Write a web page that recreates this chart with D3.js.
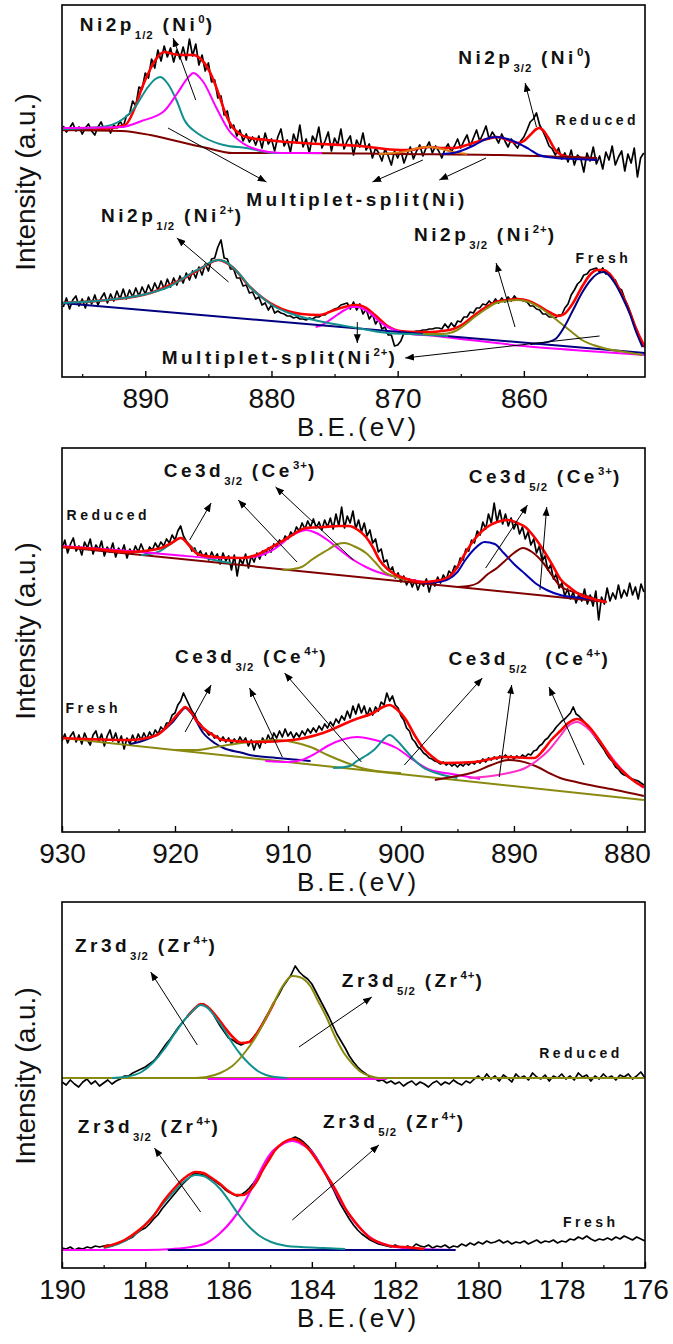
<!DOCTYPE html>
<html><head><meta charset="utf-8">
<script src="https://cdn.jsdelivr.net/npm/d3@7"></script>
<style>body{margin:0;background:#fff}</style>
</head><body>
<svg id="c" width="673" height="1344" xmlns="http://www.w3.org/2000/svg"></svg>
<script>
// ---------------- DATA ----------------
const niDomain = [896.6, 850.4];
const ceDomain = [930, 878.4];
const zrDomain = [190, 176];
const niYDomain = [0, 372];
const ceYDomain = [0, 384];
const zrYDomain = [0, 366];

const niMajor = [890, 880, 870, 860];
const niMinor = [895, 885, 875, 865, 855];
const ceMajor = [930, 920, 910, 900, 890, 880];
const ceMinor = [925, 915, 905, 895, 885];
const zrMajor = [190, 188, 186, 184, 182, 180, 178, 176];
const zrMinor = [189, 187, 185, 183, 181, 179, 177];

// raw spectra: first binding energy, step (eV), intensities (a.u.)
const niStart = 896.5, niStep = 0.25;
const niReducedCounts = [251,245,249,254,246,250,243,249,253,246,242,250,255,247,251,244,252,249,256,250,
261,263,276,271,290,288,304,299,318,309,327,316,331,320,329,315,327,318,330,317,
338,321,333,312,322,306,314,295,297,279,281,262,266,249,252,241,247,236,243,235,
240,232,241,229,244,233,238,226,240,248,231,237,225,243,234,252,230,238,224,241,
235,250,229,236,245,226,239,232,248,228,236,241,222,237,230,244,227,233,219,229,
224,216,228,221,212,226,219,227,214,223,230,218,226,232,221,229,235,224,231,226,
219,228,233,225,231,238,229,236,242,231,239,247,236,243,251,238,245,240,234,243,
236,230,238,233,229,236,240,247,255,258,264,252,246,239,231,228,222,229,218,224,
215,227,212,222,219,205,224,216,230,213,221,208,225,217,231,212,220,226,206,223,
214,229,200,219,224];
const niFreshCounts = [70,79,68,77,81,71,78,69,80,73,82,72,79,84,74,83,76,86,78,88,
78,87,80,89,81,90,83,92,85,94,87,96,88,98,90,99,92,101,94,104,
97,106,99,110,102,113,106,118,119,130,137,119,118,108,108,99,99,91,92,84,
85,78,80,72,74,67,72,64,66,64,63,61,61,59,60,58,58,57,59,58,
60,60,62,62,65,66,68,69,72,73,74,68,75,67,73,63,68,58,63,53,
58,48,50,42,42,31,32,36,44,44,45,45,46,46,47,47,48,48,49,49,
48,53,49,54,50,56,55,60,60,65,64,69,69,73,72,76,73,78,74,79,
75,80,76,81,77,77,76,75,71,71,68,67,63,63,60,60,59,62,62,69,
73,82,87,93,96,102,103,107,108,109,105,109,103,104,98,97,89,87,78,71,
62,53,46,36,30];

const ceStart = 930, ceStep = 0.25;
const ceReducedCounts = [283,292,279,288,294,281,286,277,290,284,293,278,287,282,291,276,285,280,289,275,
284,279,287,274,283,278,286,280,288,281,277,285,282,289,284,290,286,293,289,297,
292,301,306,296,291,287,281,284,277,281,275,279,272,280,274,278,268,279,271,276,
262,277,256,273,268,278,264,276,270,279,273,281,277,284,280,288,285,292,289,296,
293,300,297,305,301,309,303,311,305,313,304,310,302,312,305,314,303,318,306,325,
304,316,309,321,303,312,300,309,296,302,289,293,280,283,270,272,261,265,254,259,
250,256,247,253,245,252,242,250,246,253,240,251,246,255,249,257,252,261,258,266,
264,274,272,283,281,292,289,301,297,310,303,318,309,329,310,322,308,318,306,314,
303,310,298,305,293,300,287,293,279,286,271,276,262,267,253,258,244,249,236,243,
233,240,229,238,231,243,228,237,226,241,212,235,228,244,231,239,233,247,234,242,
236,249,237,245,233,248,240];
const ceFreshCounts = [91,98,89,96,100,90,97,88,99,92,87,97,101,91,98,86,96,102,91,99,
89,96,83,94,88,97,90,98,92,99,93,100,95,102,98,105,102,109,109,117,
119,127,131,139,133,127,121,117,111,108,103,101,97,99,94,96,91,95,90,94,
88,93,89,95,90,94,86,92,82,91,84,94,89,97,91,99,94,101,95,103,
96,100,94,99,95,101,97,103,99,104,100,106,102,108,104,110,106,113,109,116,
112,121,114,126,118,128,119,126,116,124,117,125,121,130,127,139,131,136,127,124,
116,112,104,101,93,90,85,83,79,77,74,73,71,70,68,70,67,69,66,68,
65,68,66,69,67,70,68,71,69,73,70,74,72,75,73,76,74,77,74,76,
73,76,74,77,75,78,77,81,82,86,88,92,94,98,101,105,108,111,113,116,
119,125,118,116,113,110,106,102,98,94,90,86,82,77,73,70,65,63,59,57,
56,54,53,52,51,49,47];

const zrStart = 190, zrStep = 0.1;
const zrReducedCounts = [186,183,188,184,181,186,189,184,187,182,185,188,184,187,189,192,192,195,197,199,
201,204,207,212,218,224,229,235,241,246,251,256,260,263,264,261,256,249,242,236,
230,228,225,223,225,226,231,236,243,251,258,266,273,281,287,293,302,296,292,289,
284,276,268,260,252,243,234,227,220,212,206,201,197,194,191,190,187,188,185,187,
184,186,182,185,187,183,186,184,181,185,187,183,186,184,188,185,183,187,185,189,
192,188,194,189,192,187,193,190,186,194,190,192,188,195,191,189,193,187,192,190,
194,189,192,188,195,191,193,187,192,189,194,190,192,188,193,191,194,189,192,196,
190];
const zrFreshCounts = [20,19,21,18,20,19,21,20,22,21,22,23,22,24,26,27,29,31,35,38,
40,44,49,53,59,64,69,74,79,84,88,92,95,94,93,91,89,86,83,79,
76,74,72,73,76,80,85,91,97,104,112,117,121,125,127,129,131,129,126,122,
117,111,104,96,88,80,71,63,56,49,43,38,34,31,28,26,24,23,22,21,
23,21,20,22,20,24,22,21,23,20,22,21,23,20,22,21,24,22,25,23,
26,24,27,25,26,28,25,27,24,26,25,27,24,26,28,25,27,26,28,25,
27,26,29,28,31,29,32,29,27,29,28,30,28,31,29,32,30,28,31,29,
27];

// fitted components [eV, intensity]
const niRedFit = [[896.6,247],[893.5,248],[891.6,252],[890.8,270],[890.3,288],[889.6,308],[889.2,317],[888.5,325],[887.8,323],[887.2,322],[886.6,322],[886.2,322],[885.6,318],[885.1,310],[884.6,297],[884.1,280],[883.6,262],[883.1,250],[882.5,243],[882.0,240],[880.4,237],[877.6,234],[873,231],[869.8,227],[869.0,227],[868.2,229],[867.4,230],[866.6,229],[865.6,229],[864.5,232],[863.5,236],[862.6,239],[862.2,240],[861.5,238],[860.5,234],[860,236],[859.5,242],[859.0,248],[858.8,249],[858.5,247],[858.1,240],[857.5,227],[856.8,221],[855.5,219],[854.2,217]];
const niRedBg = [[896.6,247],[891.9,246],[889.6,242],[887.2,235],[885.1,229],[883.1,224],[877.8,224],[869.8,223],[861.9,222],[854.2,219]];
const niRedTeal = [[896.6,248],[893.5,250],[892.0,256],[890.8,270],[889.9,288],[889.2,298],[888.8,300],[888.2,293],[887.5,276],[886.9,257],[886.0,245],[885.4,240],[883.8,232],[882.0,229],[879.7,224],[876.0,224]];
const niRedMag = [[896.6,249],[891.9,250],[890.3,256],[888.5,266],[887.5,283],[886.5,301],[886.2,304],[885.4,295],[884.4,270],[883.4,247],[882.3,234],[881.0,227],[879.3,224],[876.0,224]];
const niRedOrange = [[871.5,223],[870.3,224],[869.2,226],[868.4,229],[867.4,230],[866.5,228],[865.6,225],[864.5,223]];
const niRedBlue = [[866.5,223],[865.6,224],[864.6,228],[863.9,232],[863.0,238],[862.2,240],[861.3,238],[860.5,234],[859.6,228],[858.8,222],[857.5,219],[856,218],[854.2,217]];

const niFrFit = [[896.6,74],[893,77],[889.6,84],[887.2,97],[885.4,110],[884.2,117],[883.1,110],[881.7,90],[879.7,71],[877.6,63],[876.2,62],[875.0,67],[873.9,71],[873.2,72],[872.5,69],[871.8,62],[870.8,51],[869.8,46],[868.5,45],[867.4,45],[866.5,46],[865.6,48],[864.8,53],[863.9,62],[863,70],[862.2,75],[861.3,77],[860.5,78],[859.6,76],[858.8,71],[858.0,65],[857.3,61],[856.8,63],[856.1,74],[855.4,90],[854.7,103],[854.2,107],[853.7,107],[853.2,103],[852.7,94],[852.2,82],[851.6,65],[851.1,48],[850.4,30]];
const niFrBg = [[896.6,74],[850.4,24]];
const niFrTeal = [[896.6,74],[893.0,77],[889.6,84],[888.0,91],[887.2,97],[886.2,105],[885.4,110],[884.8,115],[884.2,117],[883.6,115],[883.1,110],[882.4,101],[881.7,90],[880.7,79],[879.7,70],[878.6,64],[877.6,60],[875.5,54],[873.2,49],[870.8,44],[869.0,43],[866.0,41]];
const niFrMag = [[876.5,50],[876.0,52],[875.5,56],[874.8,62],[874.2,67],[873.6,70],[873.2,70],[872.7,68],[872.0,62],[871.5,56],[870.8,50],[870.0,46],[869.5,44],[867,41],[865,38],[860,31],[855,26],[850.4,22]];
const niFrOlive = [[868,43],[866.5,43],[865.6,45],[864.8,51],[863.9,60],[863.0,68],[862.2,74],[861.3,76],[860.5,77],[859.6,75],[858.8,70],[858.0,63],[857.1,54],[856.2,45],[855.4,37],[854.5,32],[853.7,29],[852,25],[850.6,22]];
const niFrNavy = [[859.5,33],[858.5,34],[857.5,38],[856.8,50],[856.1,67],[855.4,84],[854.7,97],[854.2,103],[853.7,105],[853.2,101],[852.7,92],[852.2,80],[851.6,63],[851.1,45],[850.6,30]];

const ceRedFit = [[930,285],[927,283],[924.1,280],[922,282],[921,285],[920.3,289],[919.5,294],[918.7,286],[918,278],[916.5,275],[914.1,274],[912.8,277],[911.9,282],[910.8,289],[909.9,295],[908.4,304],[906.9,305],[905.5,306],[904.6,306],[903.8,302],[903.1,295],[902.5,285],[901.9,272],[901.2,263],[900.4,257],[899.2,252],[898.1,250],[897,251],[895.8,255],[895,265],[894.3,279],[893.4,294],[892.5,304],[891.5,310],[890.5,312],[889.7,309],[889.0,305],[888.2,295],[887.4,282],[886.6,267],[885.9,253],[885,244],[884.1,237],[883,233],[881.8,230]];
const ceRedBg = [[930,285],[881.8,230]];
const ceRedTeal = [[923,277],[921.5,280],[920.5,287],[919.5,294],[918.7,287],[917.8,277],[916.5,272],[915,269]];
const ceRedMag = [[930,286],[924,281],[920,277],[916.4,274],[914,274],[912.6,276],[911.5,281],[910.7,287],[909.6,297],[908.8,301],[908.4,302],[907.5,299],[906.5,292],[905.5,283],[904.2,272],[903.1,265],[902.3,261],[900.4,255],[898,250]];
const ceRedOlive = [[910.5,262],[909.5,263],[908.8,265],[907.8,273],[906.5,282],[905.6,288],[905.0,289],[904.2,286],[903.1,279],[902.3,270],[901.6,261],[900.4,255],[899.5,252]];
const ceRedBlue = [[898,249],[896.8,250],[895.8,253],[895,260],[894.3,272],[893.5,283],[892.6,290],[891.7,288],[890.9,279],[890,268],[889.0,258],[888,248],[887.1,242],[885.9,237],[884,234],[882,231]];
const ceRedWine = [[895,245],[894,246],[893.2,249],[892.3,258],[891.5,264],[890.9,270],[890,279],[889.2,284],[888.4,280],[887.4,269],[886.6,256],[885.9,246],[884.4,239],[883,234]];

const ceFrFit = [[930,94],[924.1,92],[921.8,96],[921,102],[920.2,112],[919.5,121],[919.1,125],[918.6,120],[918,110],[917.5,104],[916.5,96],[915.7,92],[912.6,90],[909.6,92],[906.9,99],[904.2,112],[902.3,120],[901.6,125],[901.0,127],[900.4,123],[899.6,113],[898.8,97],[898.1,85],[897.2,75],[896.3,69],[893.5,70],[890.9,75],[888.2,74],[887.4,82],[886.7,92],[885.9,101],[885.2,109],[884.4,113],[883.6,108],[882.9,99],[882.1,86],[881.3,72],[880.4,61],[879.5,52],[878.5,45]];
const ceFrBg = [[930,94],[878.5,32]];
const ceFrNavy = [[924,88],[922.9,91],[921.5,98],[920.2,110],[919.5,120],[919.1,124],[918.5,118],[917.5,99],[916.5,89],[915.7,84],[914,79],[913.4,77],[911,74],[908,71]];
const ceFrOlive = [[920,82],[918,82],[916.4,85],[914.1,89],[912.5,91],[911.1,92],[909.6,90],[908.0,85],[906.5,77],[905.0,70],[903.5,64],[902.7,62],[900,59]];
const ceFrMag = [[912,71],[910,70],[908.8,72],[907.5,79],[906.5,86],[905,93],[903.9,95],[902.3,92],[901.2,88],[900.4,84],[899.5,77],[898.9,72],[897.4,62],[895.5,58],[893,53]];
const ceFrTeal = [[906,64],[904.5,66],[903.9,71],[903,77],[902.3,83],[901.6,92],[901.0,97],[900.4,92],[899.6,82],[898.9,73],[898.1,65],[896.6,58],[895,54]];
const ceFrWine = [[897,52],[895.5,55],[893.5,60],[892,67],[890.5,72],[889.5,71],[887.9,65],[886.7,58],[885.9,54],[884.5,50],[883.3,47],[881,42],[878.5,36]];
const ceFrPink = [[894,54],[892,56],[890.5,59],[889,64],[887.9,72],[886.9,82],[885.9,96],[885.2,106],[884.4,110],[883.6,105],[882.9,97],[882.1,86],[881.3,74],[880.5,63],[879.8,55],[879,48],[878.5,44]];

const zrRedBase = [[190,190],[176,190]];
const zrRedMagBase = [[186.5,189],[182.2,189]];
const zrRedFit = [[187.0,251],[186.8,260],[186.67,264],[186.5,261],[186.3,252],[186.1,241],[185.9,231],[185.7,225],[185.5,226],[185.3,236],[185.1,250],[184.9,266]];
const zrRedTeal = [[188.8,190],[188.49,191],[188.09,196],[187.8,206],[187.56,218],[187.3,234],[187.06,248],[186.84,258],[186.67,263],[186.5,260],[186.32,251],[186.1,238],[185.91,225],[185.7,213],[185.5,204],[185.3,197],[185.1,193],[184.88,191],[184.6,190]];
const zrRedOlive = [[186.8,190],[186.53,191],[186.2,195],[185.91,202],[185.6,216],[185.29,235],[185.1,250],[184.88,268],[184.7,282],[184.47,292],[184.3,291],[184.04,282],[183.85,267],[183.64,250],[183.45,232],[183.23,215],[183.0,203],[182.82,196],[182.6,192],[182.39,190],[182.1,190]];

const zrFrFit = [[189.0,21],[188.5,28],[188.18,37],[187.8,52],[187.56,67],[187.3,80],[187.06,90],[186.79,96],[186.6,95],[186.44,91],[186.2,84],[186.0,77],[185.81,73],[185.65,73],[185.5,77],[185.3,88],[185.19,97],[185.0,110],[184.88,118],[184.7,125],[184.57,128],[184.47,129],[184.3,127],[184.2,124],[184.04,117],[183.9,109],[183.7,96],[183.54,86],[183.3,68],[183.2,60],[183.0,48],[182.8,38],[182.6,30],[182.4,26],[182.1,22],[181.8,21],[181.3,19]];
const zrFrTeal = [[189.0,20],[188.8,22],[188.5,27],[188.18,36],[187.9,48],[187.56,65],[187.3,77],[187.06,87],[186.79,93],[186.6,92],[186.44,88],[186.2,79],[186.0,68],[185.75,53],[185.5,41],[185.25,32],[184.98,26],[184.6,22],[184.26,21],[183.7,20],[183.2,19]];
const zrFrMag = [[190,18],[188,18],[187.34,19],[186.9,21],[186.53,25],[186.2,35],[185.91,48],[185.6,67],[185.38,85],[185.15,104],[184.98,115],[184.7,124],[184.47,127],[184.25,124],[184.04,118],[183.8,104],[183.54,85],[183.25,63],[183.01,48],[182.75,36],[182.51,28],[182.2,23],[181.99,21],[181.4,19],[180.55,18]];
const zrFrNavy = [[187.46,18],[180.55,18]];

// ---------------- STYLE / LAYOUT ----------------
const LEFT = 62, RIGHT = 645;
const FONT = "'Liberation Sans', Arial, sans-serif";
const LFONT = "'Liberation Sans Narrow', 'Liberation Sans', Arial, sans-serif";
const COL = {black:'#000', red:'#ff0000', teal:'#128f8f', mag:'#ff00ff', wine:'#800000', olive:'#8a8a10', navy:'#000080', blue:'#0000b0', orange:'#e07818', pink:'#ff30c8'};

const svg = d3.select('#c');
const defs = svg.append('defs');
defs.append('marker').attr('id','ah').attr('viewBox','0 0 10 8').attr('refX',10).attr('refY',4)
  .attr('markerWidth',9).attr('markerHeight',7).attr('markerUnits','userSpaceOnUse').attr('orient','auto')
  .append('path').attr('d','M0,0 L10,4 L0,8 Z').attr('fill','#000');

function grid(start, step, vals){ return vals.map((v,i)=>[start - i*step, v]); }

const panels = [
 {top:5, bottom:377, xDom:niDomain, yDom:niYDomain, major:niMajor, minor:niMinor,
  layers:[
   {d:grid(niStart,niStep,niReducedCounts), c:'black', w:1.7, raw:true},
   {d:grid(niStart,niStep,niFreshCounts), c:'black', w:1.7, raw:true},
   {d:niRedFit, c:'red', w:2.6},
   {d:niRedBg, c:'wine', w:2},
   {d:niRedTeal, c:'teal', w:2},
   {d:niRedMag, c:'mag', w:2},
   {d:niRedOrange, c:'orange', w:2},
   {d:niRedBlue, c:'blue', w:2},
   {d:niFrFit, c:'red', w:2.6},
   {d:niFrMag, c:'mag', w:2},
   {d:niFrBg, c:'navy', w:2},
   {d:niFrTeal, c:'teal', w:2},
   {d:niFrOlive, c:'olive', w:2},
   {d:niFrNavy, c:'navy', w:2}
  ],
  labels:[
   {x:895.2, y:346, s:19, parts:[['Ni2p'],['1/2','sub'],[' (Ni'],['0','sup'],[')']]},
   {x:865.2, y:313, s:19, parts:[['Ni2p'],['3/2','sub'],[' (Ni'],['0','sup'],[')']]},
   {x:857.5, y:252, s:14, parts:[['Reduced']]},
   {x:882.0, y:171, s:19, parts:[['Multiplet-split(Ni)']]},
   {x:893.5, y:155, s:19, parts:[['Ni2p'],['1/2','sub'],[' (Ni'],['2+','sup'],[')']]},
   {x:868.7, y:136, s:19, parts:[['Ni2p'],['3/2','sub'],[' (Ni'],['2+','sup'],[')']]},
   {x:855.9, y:114, s:14, parts:[['Fresh']]},
   {x:888.7, y:13, s:19, parts:[['Multiplet-split(Ni'],['2+','sup'],[')']]}
  ],
  arrows:[
   [[886.0,277],[887.8,339]], [[859.0,250],[859.9,294]],
   [[888.2,249],[880.4,195]], [[863.0,219],[866.7,197]], [[868.0,217],[872.0,195]],
   [[883.4,95],[887.5,139]], [[860.7,50],[862.2,114]],
   [[873.2,55],[873.2,34]], [[854.0,41],[869.4,19]]
  ]},
 {top:448, bottom:832, xDom:ceDomain, yDom:ceYDomain, major:ceMajor, minor:ceMinor,
  layers:[
   {d:grid(ceStart,ceStep,ceReducedCounts), c:'black', w:1.7, raw:true},
   {d:grid(ceStart,ceStep,ceFreshCounts), c:'black', w:1.7, raw:true},
   {d:ceRedBg, c:'wine', w:2},
   {d:ceRedTeal, c:'teal', w:2},
   {d:ceRedMag, c:'mag', w:2},
   {d:ceRedOlive, c:'olive', w:2},
   {d:ceRedBlue, c:'blue', w:2},
   {d:ceRedWine, c:'wine', w:2},
   {d:ceRedFit, c:'red', w:2.6},
   {d:ceFrBg, c:'olive', w:2},
   {d:ceFrNavy, c:'navy', w:2},
   {d:ceFrOlive, c:'olive', w:2},
   {d:ceFrMag, c:'mag', w:2},
   {d:ceFrTeal, c:'teal', w:2},
   {d:ceFrWine, c:'wine', w:2},
   {d:ceFrPink, c:'pink', w:2},
   {d:ceFrFit, c:'red', w:2.6}
  ],
  labels:[
   {x:921.0, y:355, s:19, parts:[['Ce3d'],['3/2','sub'],[' (Ce'],['3+','sup'],[')']]},
   {x:929.6, y:312, s:14, parts:[['Reduced']]},
   {x:894.0, y:349, s:19, parts:[['Ce3d'],['5/2','sub'],[' (Ce'],['3+','sup'],[')']]},
   {x:920.0, y:169, s:19, parts:[['Ce3d'],['3/2','sub'],[' (Ce'],['4+','sup'],[')']]},
   {x:895.8, y:167, s:19, parts:[['Ce3d'],['5/2','sub'],['  (Ce'],['4+','sup'],[')']]},
   {x:929.7, y:119, s:14, parts:[['Fresh']]}
  ],
  arrows:[
   [[918.7,292],[916.8,329]], [[909.2,270],[914.4,332]], [[904.2,272],[911.1,345]],
   [[892.5,264],[888.8,327]], [[887.7,242],[887.1,325]],
   [[919.1,100],[916.8,147]], [[910.5,75],[913.4,144]], [[903.5,70],[910.3,159]],
   [[899.7,67],[892.8,154]], [[891.3,55],[890.2,147]], [[883.8,67],[886.9,145]]
  ]},
 {top:902, bottom:1268, xDom:zrDomain, yDom:zrYDomain, major:zrMajor, minor:zrMinor,
  layers:[
   {d:grid(zrStart,zrStep,zrReducedCounts), c:'black', w:1.7, raw:true},
   {d:grid(zrStart,zrStep,zrFreshCounts), c:'black', w:1.7, raw:true},
   {d:zrRedBase, c:'olive', w:2},
   {d:zrRedMagBase, c:'mag', w:2},
   {d:zrRedFit, c:'red', w:2.6},
   {d:zrRedTeal, c:'teal', w:2},
   {d:zrRedOlive, c:'olive', w:2},
   {d:zrFrMag, c:'mag', w:2.2},
   {d:zrFrNavy, c:'navy', w:2.2},
   {d:zrFrTeal, c:'teal', w:2},
   {d:zrFrFit, c:'red', w:2.4}
  ],
  labels:[
   {x:189.69, y:316, s:19, parts:[['Zr3d'],['3/2','sub'],[' (Zr'],['4+','sup'],[')']]},
   {x:183.28, y:281, s:19, parts:[['Zr3d'],['5/2','sub'],[' (Zr'],['4+','sup'],[')']]},
   {x:178.54, y:210, s:14, parts:[['Reduced']]},
   {x:189.62, y:135, s:19, parts:[['Zr3d'],['3/2','sub'],[' (Zr'],['4+','sup'],[')']]},
   {x:183.73, y:140, s:19, parts:[['Zr3d'],['5/2','sub'],[' (Zr'],['4+','sup'],[')']]},
   {x:177.97, y:41, s:14, parts:[['Fresh']]}
  ],
  arrows:[
   [[186.75,223],[187.87,296]], [[184.31,221],[182.56,271]],
   [[186.67,56],[187.78,120]], [[184.47,48],[182.39,123]]
  ]}
];

panels.forEach((p, pi) => {
  const g = svg.append('g');
  const x = d3.scaleLinear().domain(p.xDom).range([LEFT, RIGHT]);
  const y = d3.scaleLinear().domain(p.yDom).range([p.bottom, p.top]);
  const cid = 'clip' + pi;
  defs.append('clipPath').attr('id', cid).append('rect')
    .attr('x', LEFT).attr('y', p.top).attr('width', RIGHT-LEFT).attr('height', p.bottom-p.top);
  const plot = g.append('g').attr('clip-path', `url(#${cid})`);
  const lineRaw = d3.line().x(d=>x(d[0])).y(d=>y(d[1]));
  const lineSmooth = d3.line().x(d=>x(d[0])).y(d=>y(d[1])).curve(d3.curveMonotoneX);
  p.layers.forEach(L => {
    plot.append('path').attr('d', (L.raw ? lineRaw : lineSmooth)(L.d))
      .attr('fill','none').attr('stroke', COL[L.c]).attr('stroke-width', L.w)
      .attr('stroke-linejoin','round');
  });
  p.arrows.forEach(a => {
    g.append('line').attr('x1', x(a[0][0])).attr('y1', y(a[0][1]))
      .attr('x2', x(a[1][0])).attr('y2', y(a[1][1]))
      .attr('stroke','#000').attr('stroke-width',1).attr('marker-end','url(#ah)');
  });
  p.labels.forEach(lb => {
    const t = g.append('text').attr('x', x(lb.x)).attr('y', y(lb.y))
      .attr('font-family', LFONT).attr('font-weight','bold').attr('font-size', lb.s)
      .attr('letter-spacing', 3.5).attr('fill','#111')
      .style('white-space','pre');
    let shift = 0;
    lb.parts.forEach(([s, kind]) => {
      const target = kind === 'sub' ? 8 : kind === 'sup' ? -8 : 0;
      const ts = t.append('tspan').text(s).attr('dy', target - shift);
      if (kind) ts.attr('font-size', lb.s * 0.6).attr('letter-spacing', 1);
      shift = target;
    });
  });
  g.append('rect').attr('x', LEFT).attr('y', p.top).attr('width', RIGHT-LEFT).attr('height', p.bottom-p.top)
    .attr('fill','none').attr('stroke','#000').attr('stroke-width',1.6);
  const ax = g.append('g').attr('transform', `translate(0,${p.bottom})`)
    .call(d3.axisBottom(x).tickValues(p.major).tickSize(-6).tickPadding(11).tickFormat(d3.format('d')));
  ax.select('.domain').remove();
  ax.selectAll('line').attr('stroke','#000').attr('stroke-width',1.4);
  ax.selectAll('text').attr('font-family', FONT).attr('font-size', 28).attr('fill','#111');
  const axm = g.append('g').attr('transform', `translate(0,${p.bottom})`)
    .call(d3.axisBottom(x).tickValues(p.minor).tickSize(-3).tickFormat(''));
  axm.select('.domain').remove();
  axm.selectAll('line').attr('stroke','#000').attr('stroke-width',1.2);
  g.append('text').attr('x', 358).attr('y', p.bottom + 59).attr('text-anchor','middle')
    .attr('font-family', FONT).attr('font-size', 26).attr('letter-spacing', 3).attr('fill','#111')
    .text('B.E.(eV)');
  const cy = (p.top + p.bottom) / 2 - 9;
  g.append('text').attr('transform', `translate(35,${cy}) rotate(-90)`).attr('text-anchor','middle')
    .attr('font-family', FONT).attr('font-size', 28).attr('fill','#111')
    .text('Intensity (a.u.)');
});
</script>
</body></html>
